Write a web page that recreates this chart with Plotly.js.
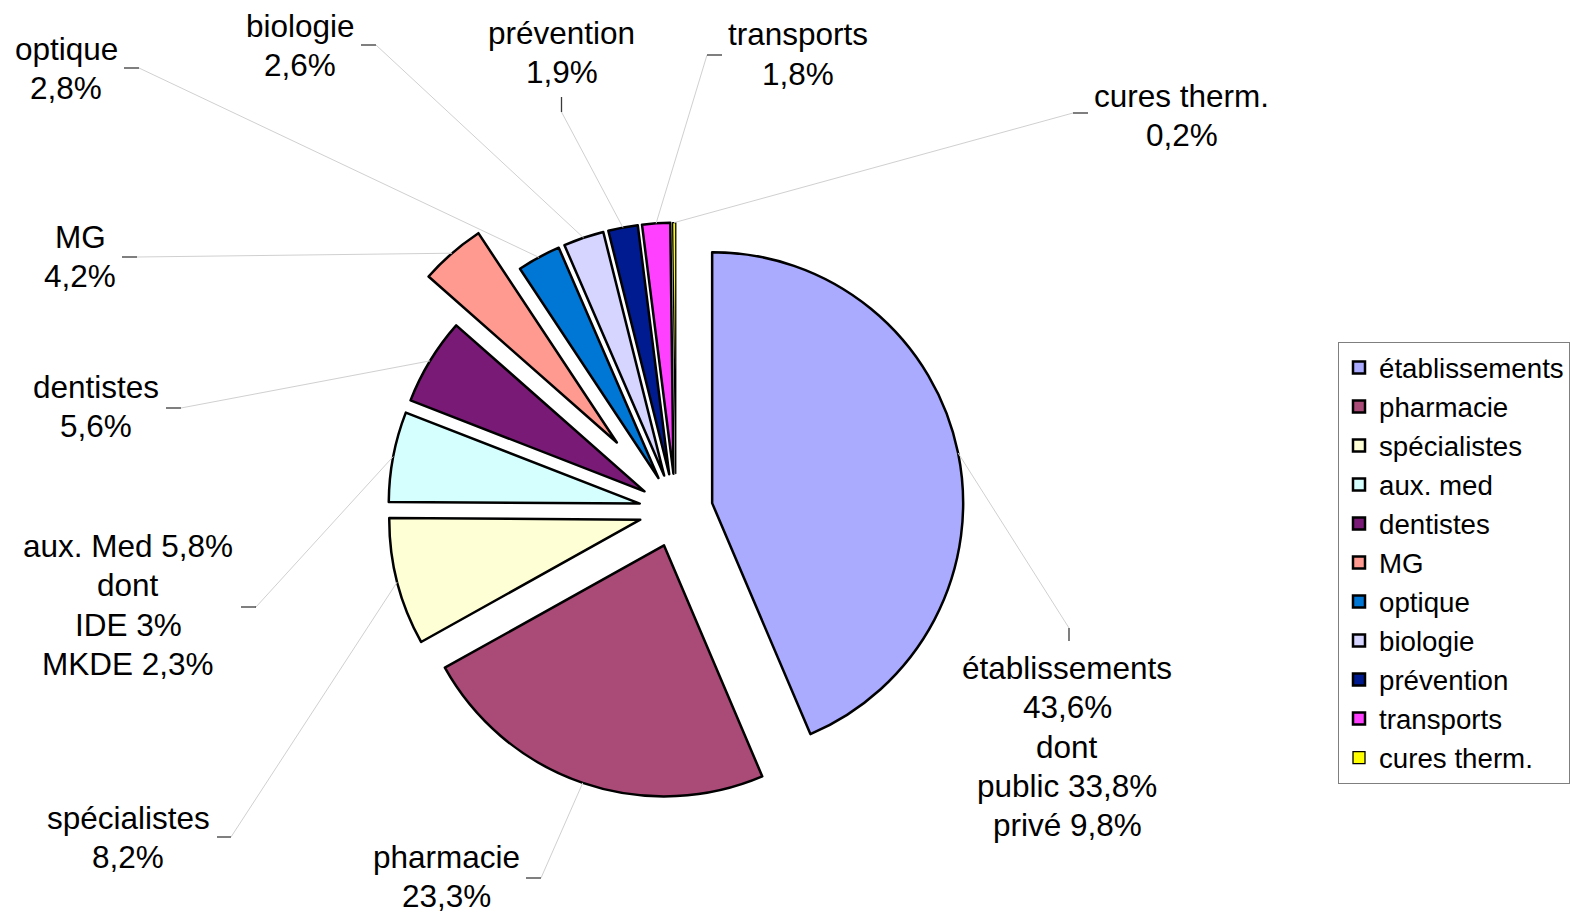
<!DOCTYPE html>
<html>
<head>
<meta charset="utf-8">
<script src="https://cdn.plot.ly/plotly-3.0.1.min.js"></script>
<style>
html, body { margin: 0; padding: 0; background: #ffffff; }
#chart { width: 1570px; height: 914px; }
</style>
</head>
<body>
<div id="chart"></div>
<script>
// ---------- DATA ----------
const categories = ['établissements', 'pharmacie', 'spécialistes', 'aux. med', 'dentistes', 'MG',
                    'optique', 'biologie', 'prévention', 'transports', 'cures therm.'];
const shares = [43.6, 23.3, 8.2, 5.8, 5.6, 4.2, 2.8, 2.6, 1.9, 1.8, 0.2];
const labelNames = ['établissements', 'pharmacie', 'spécialistes', 'aux. Med', 'dentistes', 'MG',
                    'optique', 'biologie', 'prévention', 'transports', 'cures therm.'];
const etabDetail = ['dont', 'public 33,8%', 'privé 9,8%'];
const auxDetail = ['dont', 'IDE 3%', 'MKDE 2,3%'];

// ---------- STYLE / LAYOUT ----------
const sliceColors = ['#aaaaff', '#aa4a77', '#ffffd5', '#d5ffff', '#7a1a77', '#ff9a90',
                     '#0077d5', '#d5d5ff', '#001a8f', '#ff40ff', '#ffff00'];
const sliceLineWidth = [2.5, 2.5, 2.5, 2.5, 2.5, 2.5, 2.5, 2.5, 2.5, 2.5, 1.3];
const slicePull = [0.147, 0.147, 0.147, 0.147, 0.147, 0.359, 0.147, 0.147, 0.147, 0.147, 0.147];
const W = 1570, H = 914;
const pieCx = 676, pieCy = 510.5, pieR = 251;
const FONT = 'Liberation Sans, Arial, sans-serif';
const labelFontSize = 31.5;
const lineGap = 39.3;

// label block: center x, center y of first line, dash segment [x0,y0,x1,y1] (x1,y1 = leader start)
const labelPos = [
  {x: 1067, y: 668,  dash: [1069, 641, 1069, 628]},
  {x: 446,  y: 857,  dash: [526, 878, 541, 878]},
  {x: 128,  y: 818,  dash: [217, 837, 231, 837]},
  {x: 128,  y: 546,  dash: [241, 607, 256, 607]},
  {x: 96,   y: 387,  dash: [166, 408, 181, 408]},
  {x: 80,   y: 237,  dash: [122, 257, 137, 257]},
  {x: 66,   y: 48.6, dash: [124, 68, 139, 68]},
  {x: 300,  y: 26,   dash: [361, 45, 376, 45]},
  {x: 561.5,y: 32.6, dash: [561.5, 97, 561.5, 112]},
  {x: 797.5,y: 34.3, dash: [722, 55, 707, 55]},
  {x: 1181.5,y: 96,  dash: [1088, 113, 1073, 113]}
];

const px = v => v / W;
const py = v => 1 - v / H;
const fmtPct = v => v.toFixed(1).replace('.', ',') + '%';

// pie domain derived so that Plotly's radius equals pieR
const maxPull = Math.max(...slicePull);
const half = pieR * (1 + maxPull);
const domain = {
  x: [px(pieCx - half), px(pieCx + half)],
  y: [py(pieCy + half), py(pieCy - half)]
};

// label lines
const labelLines = labelNames.map((n, i) => {
  if (i === 0) return [n, fmtPct(shares[i])].concat(etabDetail);
  if (i === 3) return [n + ' ' + fmtPct(shares[i])].concat(auxDetail);
  return [n, fmtPct(shares[i])];
});

const annotations = [];
const shapes = [];
const total = shares.reduce((a, b) => a + b, 0);
let cum = 0;
shares.forEach((v, i) => {
  const mid = (cum + v / 2) / total;
  cum += v;
  const th = mid * 2 * Math.PI;
  const rr = (1 + slicePull[i]) * pieR;
  const ex = pieCx + rr * Math.sin(th);
  const ey = pieCy - rr * Math.cos(th);
  const lp = labelPos[i];
  labelLines[i].forEach((t, k) => {
    annotations.push({
      text: t, x: px(lp.x), y: py(lp.y + k * lineGap), xref: 'paper', yref: 'paper',
      xanchor: 'center', yanchor: 'middle', showarrow: false,
      font: {family: FONT, size: labelFontSize, color: '#000000'}
    });
  });
  const d = lp.dash;
  shapes.push({type: 'line', xref: 'paper', yref: 'paper',
    x0: px(d[2]), y0: py(d[3]), x1: px(ex), y1: py(ey),
    line: {color: '#d0d0d0', width: 1}});
  shapes.push({type: 'line', xref: 'paper', yref: 'paper',
    x0: px(d[0]), y0: py(d[1]), x1: px(d[2]), y1: py(d[3]),
    line: {color: '#3a3a3a', width: 1.3}});
});

const trace = {
  type: 'pie',
  labels: categories,
  values: shares,
  sort: false,
  direction: 'clockwise',
  rotation: 0,
  pull: slicePull,
  textinfo: 'none',
  hoverinfo: 'label+percent',
  automargin: false,
  domain: domain,
  marker: {colors: sliceColors, line: {color: '#000000', width: sliceLineWidth}}
};

const layout = {
  width: W, height: H,
  margin: {l: 0, r: 0, t: 0, b: 0, pad: 0},
  paper_bgcolor: '#ffffff',
  plot_bgcolor: '#ffffff',
  showlegend: true,
  legend: {
    x: 1, xanchor: 'right', y: py(342), yanchor: 'top',
    bordercolor: '#7f7f7f', borderwidth: 1, bgcolor: '#ffffff',
    font: {family: FONT, size: 27.7, color: '#000000'},
    traceorder: 'normal'
  },
  annotations: annotations,
  shapes: shapes
};

Plotly.newPlot('chart', [trace], layout, {displayModeBar: false, staticPlot: true});
</script>
</body>
</html>
